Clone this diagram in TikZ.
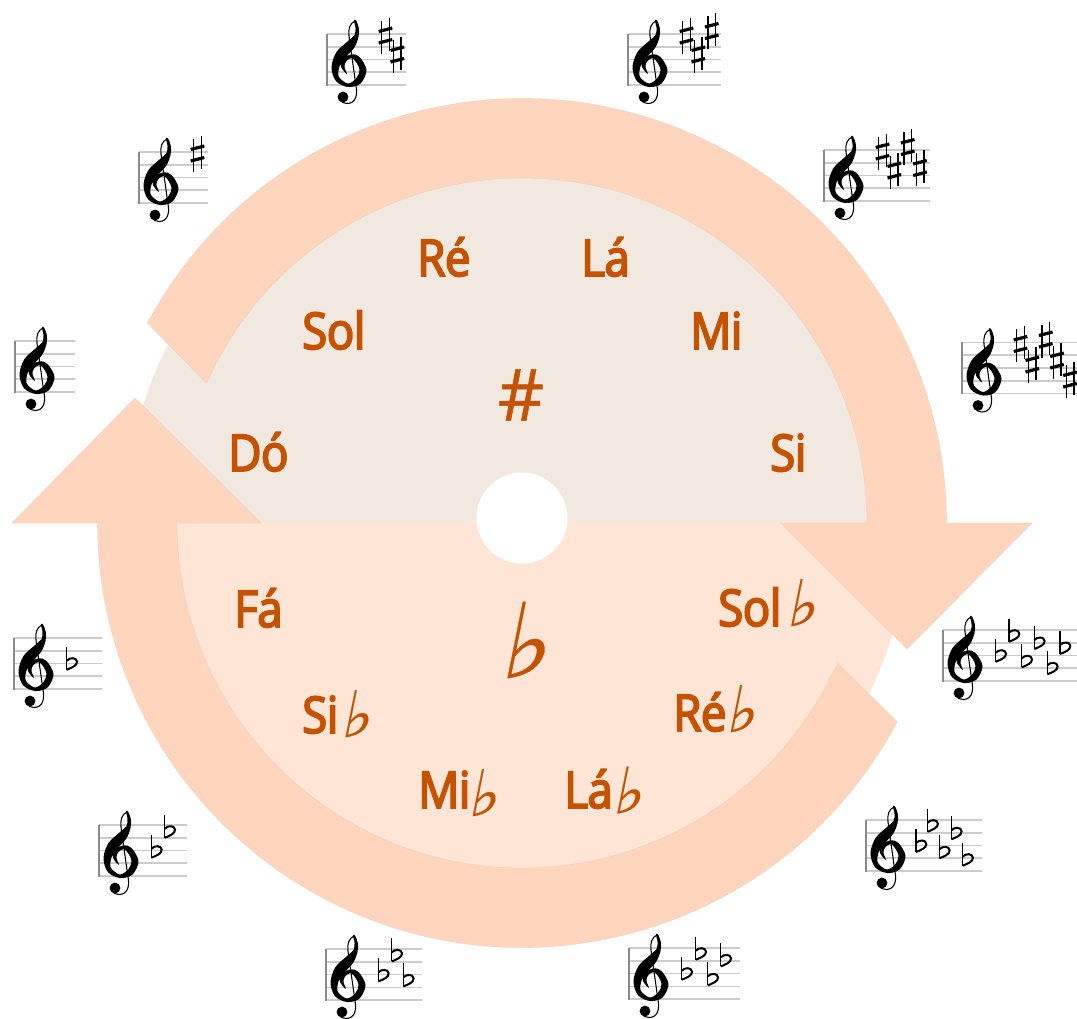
\documentclass[tikz,border=0pt]{standalone}
\usepackage{fontspec}
\usetikzlibrary{calc}
\newfontfamily\lab[FakeStretch=0.9,LetterSpace=-1,FakeBold=3.6]{Open Sans}
\newfontfamily\hashf[FakeBold=0.8]{Open Sans}
\newfontfamily\flatf[FakeSlant=0.2,FakeBold=0.3]{DejaVu Sans}
\definecolor{arrowc}{HTML}{FFD6BD}
\definecolor{upperc}{HTML}{F1E8DF}
\definecolor{lowerc}{HTML}{FEE5D6}
\definecolor{textc}{HTML}{C45200}
\definecolor{edgec}{HTML}{E3C6B3}
\definecolor{staffc}{HTML}{CBCBCB}
\definecolor{barc}{HTML}{8A8A8A}
\tikzset{
  arrowshape/.style={fill=arrowc,draw=edgec,line width=0.15pt},
  keylabel/.style={anchor=base west,text=textc,inner sep=0pt,font=\lab\fontsize{38}{38}\selectfont},
  sharpmark/.pic={
    \draw[line width=1.05pt,black] (-3.8,-15) -- (-3.8,18) (3.8,-18) -- (3.8,15);
    \draw[line width=2.4pt,black] (-6.8,-4) -- (6.8,-7.5) (-6.8,7.5) -- (6.8,4);
  },
  flatmark/.pic={
    \draw[line width=1.05pt,black] (0,-23) -- (0,0);
    \draw[line width=1.5pt,black] (0,-9) .. controls (3,-12.5) and (10,-12.5) .. (10.3,-8) .. controls (10.5,-4) and (5,-2) .. (0,0);
  },
  treble/.pic={
    \fill[black] plot[smooth cycle,tension=0.55] coordinates {
      (27,-13.5) (28.5,-6) (27.5,1) (20.5,7.5) (9.5,18) (4.5,33) (8.9,47) (21,53) (33.5,49.5) (39.5,36)
      (32.5,23) (24.5,20.3) (15.3,25.5) (14,33) (20,40) (17.5,33) (19,27.5) (24.5,24) (29,28) (32.5,36)
      (29.5,44) (21,49.5) (12,43) (12,34) (17,25) (27,14) (31.5,3) (31.8,-6) (29,-13.5)};
    \draw[line width=0.8pt,black] (28,-13) .. controls (23,-11) and (21,-5) .. (22,2) -- (29,52)
       .. controls (31,62) and (28,69.5) .. (20,69.5) .. controls (17,69.5) and (14,68) .. (13,66);
    \fill[black] (16,63) circle[radius=5.4];
  }
}
\newcommand{\mystave}[4]{%
  \begin{scope}[shift={(#1,#2)}]
    \foreach \k in {0,12.75,25.5,38.25,51} \draw[staffc,line width=1.15pt] (0,\k) -- (#3-#1,\k);
    \draw[barc,line width=1.6pt] (0,-0.5) -- (0,51.5);
    \pic {treble};
    #4
  \end{scope}}
\newcommand{\Sh}[2]{\pic at (#1,#2) {sharpmark};}
\newcommand{\Fl}[2]{\pic at (#1,#2) {flatmark};}
\newcommand{\mflat}[2]{{\kern#1\raisebox{#2}{\flatf\fontsize{48}{48}\selectfont ♭}}}
\begin{document}
\begin{tikzpicture}[x=0.75pt,y=-0.75pt]
\useasboundingbox (0,0) rectangle (1077,1018);
\coordinate (O) at (522,523);
% discs
\fill[upperc] ($(O)+(0:297.4pt)$) arc[start angle=0,end angle=180,radius=297.4pt] -- cycle;
\fill[lowerc] ($(O)+(0:290pt)$) arc[start angle=0,end angle=-180,radius=290pt] -- cycle;
% arrows
\path[arrowshape] ($(O)+(151.9:318.4pt)$) arc[start angle=151.9,end angle=0,radius=318.4pt]
  -- (1032,523) -- (907,649) -- (781,523) -- (867,523)
  arc[start angle=0,end angle=156.1,radius=258.75pt] -- cycle;
\path[arrowshape] ($(O)+(-27.9:318.4pt)$) arc[start angle=-27.9,end angle=-180,radius=318.4pt]
  -- (12,523) -- (135,398) -- (261,523) -- (177,523)
  arc[start angle=-180,end angle=-24,radius=258.75pt] -- cycle;
\fill[white] (522,518) circle[radius=45.5];
% labels
\node[keylabel] (re) at (417,276) {Ré};
\node[keylabel] (la) at (581,276) {Lá};
\node[keylabel] (sol) at (302,349) {Sol};
\node[keylabel] (mi) at (690,349) {Mi};
\node[keylabel] (do) at (228,471) {Dó};
\node[keylabel] (si) at (770,471) {Si};
\node[keylabel] (fa) at (234,627) {Fá};
\node[keylabel] (sib) at (302,733) {Si\mflat{1.25pt}{-3pt}};
\node[keylabel] (mib) at (418,808) {Mi\mflat{-2.5pt}{-6pt}};
\node[keylabel] (lab) at (564,808) {Lá\mflat{-0.75pt}{-4pt}};
\node[keylabel] (reb) at (673,731) {Ré\mflat{-1pt}{-0.75pt}};
\node[keylabel] (solb) at (718,626) {Sol\hspace{2.25pt}\mflat{1pt}{0pt}};
\node[text=textc,inner sep=0pt,font=\hashf\fontsize{54}{54}\selectfont] (sharp) at (521,395) {\#};
\node[text=textc,inner sep=0pt,font=\flatf\fontsize{78}{78}\selectfont] (flat) at (523,640) {♭};
% staves
\mystave{15}{341}{75}{}
\mystave{139}{152}{208}{\Sh{58.5}{1.5}}
\mystave{327}{34}{406}{\Sh{58.5}{1.5}\Sh{70.3}{20.5}}
\mystave{628}{34}{721}{\Sh{58.5}{1.5}\Sh{70.3}{20.5}\Sh{83.7}{-3}}
\mystave{824}{150}{930}{\Sh{58.5}{1.5}\Sh{70.3}{20.5}\Sh{83.7}{-3}\Sh{96}{18}}
\mystave{962}{342.5}{1077}{\Sh{58.5}{1.5}\Sh{70.3}{22}\Sh{83.7}{-3}\Sh{95}{18}\Sh{108}{37}}
\mystave{943}{630}{1077}{\Fl{52.7}{31.7}\Fl{66}{11.7}\Fl{78.7}{37.3}\Fl{91.3}{19}\Fl{104.3}{44.3}\Fl{117}{24}}
\mystave{866}{820}{982}{\Fl{50}{32}\Fl{61.6}{11.7}\Fl{73.3}{38.3}\Fl{85.3}{19.3}\Fl{96.6}{45.7}}
\mystave{629}{948}{740}{\Fl{52.7}{31.7}\Fl{66.7}{11.7}\Fl{78.7}{37.4}\Fl{91.7}{18.4}}
\mystave{326}{949}{422}{\Fl{52.3}{32.4}\Fl{65.7}{12.4}\Fl{77.3}{37.4}}
\mystave{99}{825}{187}{\Fl{52.4}{32.7}\Fl{65.7}{12.7}}
\mystave{14}{638}{102}{\Fl{52.7}{31.7}}
\end{tikzpicture}
\end{document}
